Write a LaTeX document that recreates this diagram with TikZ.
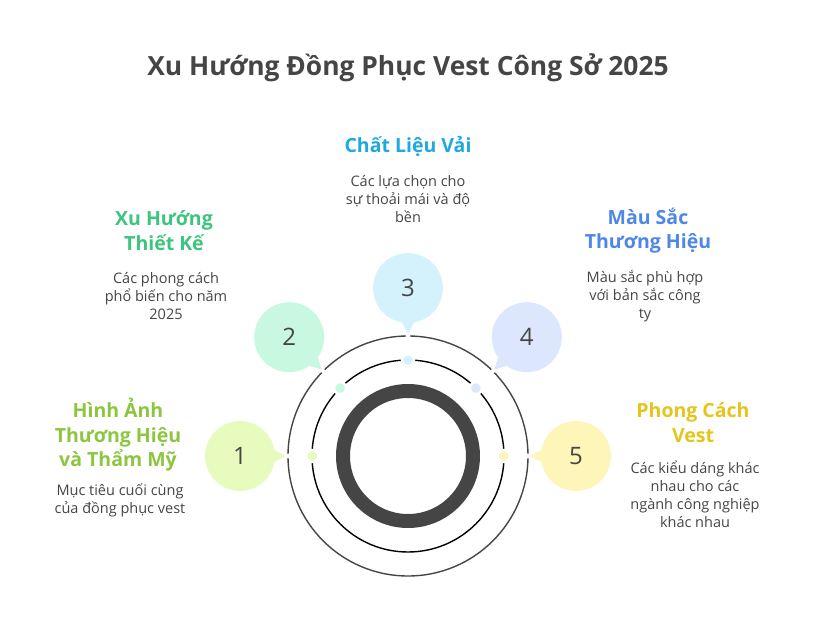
\documentclass[tikz,border=0pt]{standalone}
\usepackage{fontspec}
\setmainfont{Open Sans}
\usetikzlibrary{calc}
\definecolor{ink}{HTML}{454545}
\definecolor{fillA}{HTML}{E7FBBE}
\definecolor{fillB}{HTML}{C9F8E1}
\definecolor{fillC}{HTML}{D3F2FC}
\definecolor{fillD}{HTML}{DCE7FD}
\definecolor{fillE}{HTML}{FEF5B9}
\definecolor{headA}{HTML}{8CC63F}
\definecolor{headB}{HTML}{3DC47E}
\definecolor{headC}{HTML}{1EA9E1}
\definecolor{headD}{HTML}{4E87E8}
\definecolor{headE}{HTML}{E3C51C}
\begin{document}
\begin{tikzpicture}[x=1pt,y=-1pt]
\tikzstyle{bubble}=[circle,minimum size=70pt,inner sep=0pt,text=ink,font=\fontsize{24}{24}\selectfont]
\tikzstyle{dot}=[circle,minimum size=12pt,inner sep=0pt,draw=white,line width=2.5pt]
\tikzstyle{head}=[align=center,font=\bfseries\fontsize{19.5}{24.5}\selectfont]
\tikzstyle{note}=[align=center,text=ink,font=\fontsize{14.5}{18}\selectfont]
\useasboundingbox (0,0) rectangle (816,636);
\node[text=ink,font=\bfseries\fontsize{26.4}{26.4}\selectfont] (title) at (408,68) {Xu Hướng Đồng Phục Vest Công Sở 2025};
\coordinate (c) at (408,456);
% rings
\draw[ink,line width=1.4pt] (c) circle (120);
\draw[black,line width=1.4pt] (c) circle (96);
\draw[ink,line width=14pt] (c) circle (65);
% bubbles, pointers and dots
\foreach \i/\a/\col in {1/180/fillA,2/-135/fillB,3/-90/fillC,4/-45/fillD,5/0/fillE} {
  \fill[white] ($(c)+(\a:120)$) circle (2.2);
  \coordinate (p\i) at ($(c)+(\a:168)$);
  \coordinate (t\i) at ($(c)+(\a:122)$);
  \fill[\col] ($(p\i)+(\a+90:24)$) -- (t\i) -- ($(p\i)+(\a-90:24)$) -- cycle;
  \node[bubble,fill=\col] (b\i) at (p\i) {\i};
  \node[dot,fill=\col] (d\i) at ($(c)+(\a:96)$) {};
}
% labels
\node[head,text=headA] (h1) at (118,435) {Hình Ảnh\\Thương Hiệu\\và Thẩm Mỹ};
\node[note] (n1) at (120,500) {Mục tiêu cuối cùng\\của đồng phục vest};
\node[head,text=headB] (h2) at (164,230.5) {Xu Hướng\\Thiết Kế};
\node[note] (n2) at (166,296) {Các phong cách\\phổ biến cho năm\\2025};
\node[head,text=headC] (h3) at (408,146) {Chất Liệu Vải};
\node[note] (n3) at (408,199) {Các lựa chọn cho\\sự thoải mái và độ\\bền};
\node[head,text=headD] (h4) at (648,230.5) {Màu Sắc\\Thương Hiệu};
\node[note] (n4) at (645,296) {Màu sắc phù hợp\\với bản sắc công\\ty};
\node[head,text=headE] (h5) at (693,422.5) {Phong Cách\\Vest};
\node[note] (n5) at (695,494) {Các kiểu dáng khác\\nhau cho các\\ngành công nghiệp\\khác nhau};
\end{tikzpicture}
\end{document}
